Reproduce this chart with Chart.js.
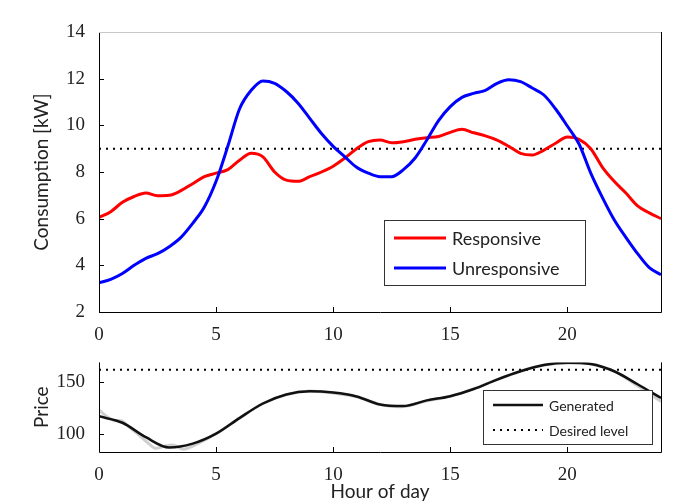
<!DOCTYPE html>
<html><head><meta charset="utf-8">
<script src="https://cdn.jsdelivr.net/npm/chart.js@4.4.0/dist/chart.umd.min.js"></script>
<style>
body{margin:0;background:#fff;width:676px;height:501px;overflow:hidden;position:relative}
#top{position:absolute;left:0;top:0}
#bot{position:absolute;left:0;top:345px}
</style></head><body>
<canvas id="top" width="676" height="345"></canvas>
<canvas id="bot" width="676" height="160"></canvas>
<script>
// consumption, half-hour steps
const hours = [0,0.5,1,1.5,2,2.5,3,3.5,4,4.5,5,5.5,6,6.5,7,7.5,8,8.5,9,9.5,10,10.5,11,11.5,12,
  12.5,13,13.5,14,14.5,15,15.5,16,16.5,17,17.5,18,18.5,19,19.5,20,20.5,21,21.5,22,22.5,23,23.5,24];
const responsive = [6.05,6.3,6.7,6.95,7.1,6.98,7.0,7.2,7.5,7.8,7.95,8.1,8.5,8.8,8.65,8.0,7.65,7.6,7.8,8.0,8.25,
  8.6,9.0,9.3,9.37,9.25,9.3,9.4,9.47,9.52,9.7,9.83,9.68,9.55,9.37,9.1,8.8,8.73,8.94,9.23,9.5,9.4,9.0,
  8.2,7.6,7.1,6.55,6.25,6.0];
const unresponsive = [3.25,3.4,3.65,4.0,4.3,4.5,4.8,5.2,5.8,6.5,7.6,9.1,10.7,11.5,11.9,11.8,11.45,10.95,10.3,9.65,
  9.1,8.65,8.2,7.95,7.8,7.8,8.1,8.6,9.37,10.2,10.8,11.2,11.37,11.5,11.8,11.95,11.87,11.6,11.3,10.7,9.97,
  9.2,7.95,6.9,5.95,5.2,4.5,3.9,3.6];
const consumptionLevel = 9;

// price
const priceHours = [0,1,2,3,4,5,6,7,8,9,10,11,12,13,14,15,16,17,18,19,20,21,22,23,24];
const generated = [116.7,110.5,96.6,86.7,90.4,100,115,129,137.7,140.7,139.5,135.8,128,126.5,132,136,142.9,
  152,160,166,168.2,167,160,147.5,134.3];
const actualHours = [0,0.3,0.6,1,1.3,1.7,2,2.4,2.8,3.2,3.6,4,5,6,7,8,9,10,11,12,13,14,15,16,17,18,19,20,21,22,23,24];
const actualPrice = [123,117,113,112,106,99,93,86,88,89,85,88,100,115,129,137.5,141,139,135.5,128,126,131.5,136,
  143,152,160,166,168,167,160,146,131];
const priceLevel = 161.5;
const priceTicks = [100,150];

const pts = (xs, ys) => xs.map((x, i) => ({x, y: ys[i]}));
const flat = (v) => [{x: 0, y: v}, {x: 24, y: v}];

Chart.defaults.font.family = 'Liberation Serif';
Chart.defaults.font.size = 19;
Chart.defaults.color = '#222';
const tickFont = {family: 'Liberation Serif', size: 19};
const textFont = {family: 'Lato', size: 19};

const frame = {
  id: 'frame',
  afterDraw(chart, args, o) {
    const {ctx, chartArea: a, scales} = chart;
    ctx.save();
    ctx.lineWidth = 1;
    ctx.strokeStyle = '#000';
    ctx.beginPath();
    scales.x.ticks.forEach(t => {
      const px = Math.round(scales.x.getPixelForValue(t.value)) + 0.5;
      ctx.moveTo(px, a.bottom); ctx.lineTo(px, a.bottom - 5);
    });
    scales.y.ticks.forEach(t => {
      const py = Math.round(scales.y.getPixelForValue(t.value)) + 0.5;
      ctx.moveTo(a.left, py); ctx.lineTo(a.left + 5, py);
    });
    ctx.moveTo(a.left + 0.5, a.top); ctx.lineTo(a.left + 0.5, a.bottom + 0.5);
    ctx.lineTo(a.right + 0.5, a.bottom + 0.5); ctx.lineTo(a.right + 0.5, a.top);
    ctx.stroke();
    if (o.topEdge) {
      ctx.strokeStyle = o.topEdge;
      ctx.beginPath(); ctx.moveTo(a.left, a.top + 0.5); ctx.lineTo(a.right, a.top + 0.5); ctx.stroke();
    }
    const L = o.legend;
    ctx.fillStyle = '#fff';
    ctx.strokeStyle = '#333';
    ctx.fillRect(L.x, L.y, L.w, L.h);
    ctx.strokeRect(L.x + 0.5, L.y + 0.5, L.w, L.h);
    ctx.font = L.size + 'px Lato';
    ctx.textBaseline = 'middle';
    chart.data.datasets.filter(d => d.inLegend).forEach((d, i) => {
      const y = L.y + L.first + i * L.row;
      ctx.strokeStyle = d.borderColor;
      ctx.lineWidth = d.borderWidth;
      ctx.setLineDash(d.borderDash || []);
      ctx.beginPath(); ctx.moveTo(L.x + L.pad, y); ctx.lineTo(L.x + L.pad + L.line, y); ctx.stroke();
      ctx.setLineDash([]);
      ctx.fillStyle = '#222';
      ctx.fillText(d.label, L.x + L.pad + L.line + 6, y + 1);
    });
    ctx.restore();
  }
};

function xAxis(height, title) {
  return {
    type: 'linear', min: 0, max: 24,
    grid: {display: false}, border: {display: false},
    ticks: {stepSize: 5, includeBounds: false, font: tickFont, color: '#222', padding: 4, maxRotation: 0},
    title: title ? {display: true, text: title, font: textFont, color: '#222', padding: {top: 0, bottom: 2}} : {display: false},
    afterFit(s) { s.height = height; }
  };
}

new Chart(document.getElementById('top'), {
  type: 'line',
  data: {
    datasets: [
      {label: 'Level', data: flat(consumptionLevel), borderColor: '#000', borderWidth: 2, borderDash: [2, 5], pointRadius: 0, order: 3},
      {label: 'Responsive', inLegend: true, data: pts(hours, responsive), borderColor: '#ff0000', borderWidth: 3,
        pointRadius: 0, cubicInterpolationMode: 'monotone', order: 2},
      {label: 'Unresponsive', inLegend: true, data: pts(hours, unresponsive), borderColor: '#0000ff', borderWidth: 3,
        pointRadius: 0, cubicInterpolationMode: 'monotone', order: 1}
    ]
  },
  options: {
    responsive: false, animation: false,
    layout: {padding: {top: 32, right: 15, left: 0, bottom: 0}},
    plugins: {
      legend: {display: false}, tooltip: {enabled: false},
      frame: {topEdge: '#c8c8c8', legend: {x: 384, y: 220, w: 201, h: 65, first: 18, row: 30, pad: 10, line: 52, size: 18}}
    },
    scales: {
      x: xAxis(33),
      y: {
        min: 2, max: 14,
        grid: {display: false}, border: {display: false},
        ticks: {stepSize: 2, font: tickFont, color: '#222', padding: 6},
        title: {display: true, text: 'Consumption [kW]', font: textFont, color: '#222', padding: {top: 30, bottom: 0}},
        afterFit(s) { s.width = 99; }
      }
    }
  },
  plugins: [frame]
});

new Chart(document.getElementById('bot'), {
  type: 'line',
  data: {
    datasets: [
      {label: 'Actual', data: pts(actualHours, actualPrice), borderColor: '#cfcfcf', borderWidth: 3, pointRadius: 0, tension: 0.3, order: 4},
      {label: 'Desired level', inLegend: false, data: flat(priceLevel), borderColor: '#000', borderWidth: 2, borderDash: [2, 5], pointRadius: 0, order: 3},
      {label: 'Generated', inLegend: true, data: pts(priceHours, generated), borderColor: '#111', borderWidth: 2.5,
        pointRadius: 0, cubicInterpolationMode: 'monotone', order: 1},
      {label: 'Desired level', inLegend: true, data: [], borderColor: '#000', borderWidth: 2, borderDash: [2, 5], pointRadius: 0, order: 2}
    ]
  },
  options: {
    responsive: false, animation: false,
    layout: {padding: {top: 14, right: 15, left: 0, bottom: 0}},
    plugins: {
      legend: {display: false}, tooltip: {enabled: false},
      frame: {legend: {x: 483, y: 45, w: 169, h: 54, first: 15, row: 25, pad: 10, line: 50, size: 14}}
    },
    scales: {
      x: xAxis(53, 'Hour of day'),
      y: {
        min: 82.4, max: 168.5,
        grid: {display: false}, border: {display: false},
        afterBuildTicks(s) { s.ticks = priceTicks.map(v => ({value: v})); },
        ticks: {font: tickFont, color: '#222', padding: 6},
        title: {display: true, text: 'Price', font: textFont, color: '#222', padding: {top: 30, bottom: 0}},
        afterFit(s) { s.width = 99; }
      }
    }
  },
  plugins: [frame]
});
</script>
</body></html>
